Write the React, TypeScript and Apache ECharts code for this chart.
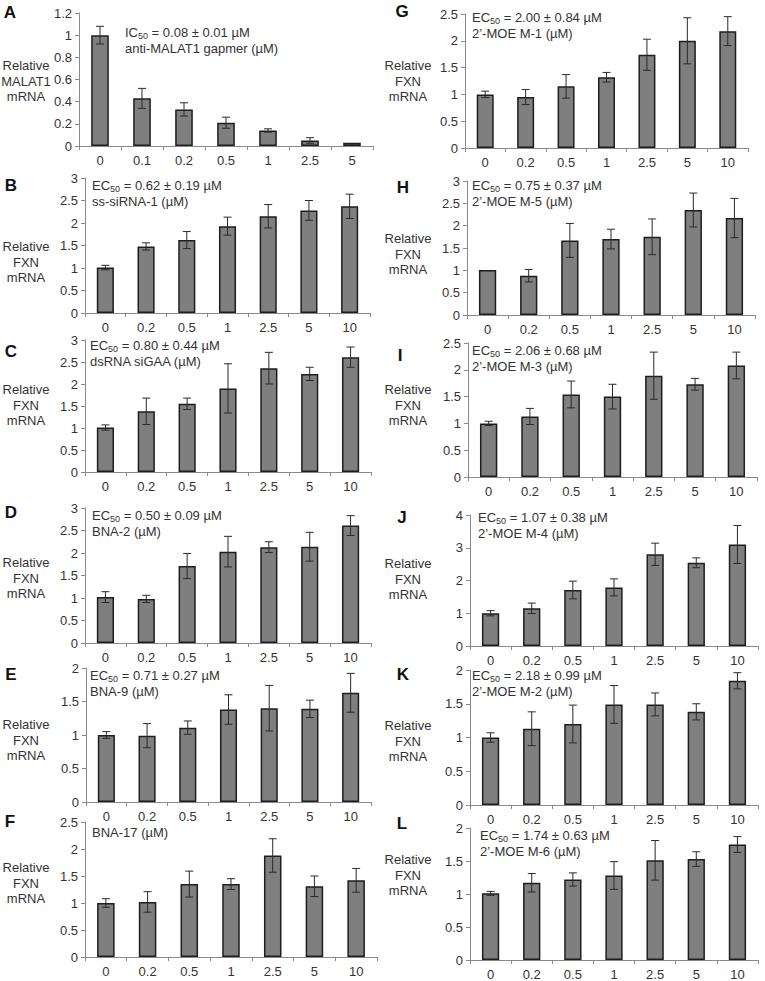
import React, { useEffect, useRef } from "react";
import * as echarts from "echarts";

const catsA = ["0", "0.1", "0.2", "0.5", "1", "2.5", "5"];
const cats = ["0", "0.2", "0.5", "1", "2.5", "5", "10"];

const valuesA = [1.0, 0.43, 0.33, 0.21, 0.14, 0.05, 0.03];
const errorsA = [0.08, 0.09, 0.06, 0.05, 0.015, 0.025, 0];
const valuesB = [1.01, 1.48, 1.62, 1.93, 2.15, 2.28, 2.37];
const errorsB = [0.05, 0.08, 0.19, 0.2, 0.26, 0.22, 0.27];
const valuesC = [1.01, 1.38, 1.55, 1.9, 2.36, 2.23, 2.61];
const errorsC = [0.06, 0.3, 0.13, 0.56, 0.36, 0.15, 0.23];
const valuesD = [1.02, 0.98, 1.71, 2.03, 2.13, 2.14, 2.61];
const errorsD = [0.12, 0.08, 0.28, 0.34, 0.12, 0.32, 0.22];
const valuesE = [1.0, 0.99, 1.11, 1.38, 1.4, 1.39, 1.63];
const errorsE = [0.05, 0.18, 0.1, 0.22, 0.34, 0.13, 0.29];
const valuesF = [1.0, 1.02, 1.35, 1.35, 1.88, 1.31, 1.42];
const errorsF = [0.08, 0.19, 0.24, 0.1, 0.31, 0.19, 0.22];
const valuesG = [1.0, 0.95, 1.15, 1.32, 1.74, 2.0, 2.18];
const errorsG = [0.06, 0.14, 0.22, 0.09, 0.29, 0.43, 0.27];
const valuesH = [1.01, 0.88, 1.67, 1.7, 1.75, 2.35, 2.17];
const errorsH = [0, 0.14, 0.38, 0.22, 0.4, 0.38, 0.44];
const valuesI = [1.0, 1.13, 1.54, 1.5, 1.89, 1.73, 2.08];
const errorsI = [0.04, 0.15, 0.25, 0.23, 0.44, 0.11, 0.25];
const valuesJ = [1.0, 1.15, 1.71, 1.79, 2.8, 2.54, 3.1];
const errorsJ = [0.08, 0.16, 0.27, 0.26, 0.34, 0.15, 0.58];
const valuesK = [1.0, 1.13, 1.2, 1.49, 1.49, 1.38, 1.84];
const errorsK = [0.07, 0.25, 0.28, 0.28, 0.17, 0.12, 0.12];
const valuesL = [1.01, 1.17, 1.22, 1.28, 1.51, 1.53, 1.75];
const errorsL = [0.03, 0.14, 0.1, 0.21, 0.3, 0.11, 0.12];

const yMax = [1.2, 3, 3, 3, 2, 2.5, 2.5, 3, 2.5, 4, 2, 2];
const yStep = [0.2, 0.5, 0.5, 0.5, 0.5, 0.5, 0.5, 0.5, 0.5, 1, 0.5, 0.5];

const letters = ["A", "B", "C", "D", "E", "F", "G", "H", "I", "J", "K", "L"];
const yTitles = [
  "Relative\nMALAT1\nmRNA",
  "Relative\nFXN\nmRNA",
  "Relative\nFXN\nmRNA",
  "Relative\nFXN\nmRNA",
  "Relative\nFXN\nmRNA",
  "Relative\nFXN\nmRNA",
  "Relative\nFXN\nmRNA",
  "Relative\nFXN\nmRNA",
  "Relative\nFXN\nmRNA",
  "Relative\nFXN\nmRNA",
  "Relative\nFXN\nmRNA",
  "Relative\nFXN\nmRNA",
];
const effPrefix = ["IC", "EC", "EC", "EC", "EC", "", "EC", "EC", "EC", "EC", "EC", "EC"];
const effValues = [
  " = 0.08 ± 0.01 µM",
  " = 0.62 ± 0.19 µM",
  " = 0.80 ± 0.44 µM",
  " = 0.50 ± 0.09 µM",
  " = 0.71 ± 0.27 µM",
  "",
  " = 2.00 ± 0.84 µM",
  " = 0.75 ± 0.37 µM",
  " = 2.06 ± 0.68 µM",
  " = 1.07 ± 0.38 µM",
  " = 2.18 ± 0.99 µM",
  " = 1.74 ± 0.63 µM",
];
const compounds = [
  "anti-MALAT1 gapmer (µM)",
  "ss-siRNA-1 (µM)",
  "dsRNA siGAA (µM)",
  "BNA-2 (µM)",
  "BNA-9 (µM)",
  "BNA-17 (µM)",
  "2’-MOE M-1 (µM)",
  "2’-MOE M-5 (µM)",
  "2’-MOE M-3 (µM)",
  "2’-MOE M-4 (µM)",
  "2’-MOE M-2 (µM)",
  "2’-MOE M-6 (µM)",
];

const allValues = [valuesA, valuesB, valuesC, valuesD, valuesE, valuesF, valuesG, valuesH, valuesI, valuesJ, valuesK, valuesL];
const allErrors = [errorsA, errorsB, errorsC, errorsD, errorsE, errorsF, errorsG, errorsH, errorsI, errorsJ, errorsK, errorsL];
const allCats = [catsA, cats, cats, cats, cats, cats, cats, cats, cats, cats, cats, cats];

// layout: [axisX, topY, rightX, bottomY]
const gridBox = [
  [79, 13, 373, 146],
  [85, 178, 370, 313],
  [85, 340, 371, 472],
  [85, 508, 371, 643],
  [86, 668, 371, 802],
  [85, 822, 377, 957],
  [465, 14, 748, 148],
  [467, 181, 755, 315],
  [468, 343, 757, 477],
  [470, 515, 758, 646],
  [470, 670, 758, 805],
  [470, 828, 758, 961],
];
const letterPos = [
  [10, 12], [11, 185], [11, 351], [11, 512], [11, 674], [10, 821],
  [402, 11], [403, 187], [400, 355], [402, 517], [403, 674], [402, 823],
];
const titlePos = [
  [26, 81], [26, 262], [26, 405], [26, 578], [26, 740], [26, 883],
  [408, 81], [408, 254], [408, 405], [408, 579], [408, 741], [408, 875],
];
const notePos = [
  [125, 32], [92, 185], [90, 345], [92, 515], [90, 675], [92, 832],
  [472, 17], [472, 185], [472, 350], [478, 517], [472, 675], [480, 835],
];

const FONT = "'Liberation Sans', Arial, Helvetica, sans-serif";
const TXT = "#333";

export default function App() {
  const ref = useRef<HTMLDivElement>(null);
  useEffect(() => {
    if (!ref.current) return;
    const chart = echarts.init(ref.current, undefined, { renderer: "svg" });
    const grid = gridBox.map((g) => ({
      left: g[0],
      top: g[1],
      width: g[2] - g[0],
      height: g[3] - g[1],
      containLabel: false,
    }));
    const xAxis = allCats.map((c, i) => ({
      type: "category",
      gridIndex: i,
      data: c,
      axisLine: { lineStyle: { color: "#8a8a8a", width: 1 } },
      axisTick: { show: true, length: 4, lineStyle: { color: "#8a8a8a" } },
      axisLabel: { color: TXT, fontSize: 13, margin: 8, interval: 0, fontFamily: FONT },
    }));
    const yAxis = yMax.map((m, i) => ({
      type: "value",
      gridIndex: i,
      min: 0,
      max: m,
      interval: yStep[i],
      axisLine: { show: true, lineStyle: { color: "#8a8a8a", width: 1 } },
      axisTick: { show: true, length: 4, lineStyle: { color: "#8a8a8a" } },
      splitLine: { show: false },
      axisLabel: { color: TXT, fontSize: 13, margin: 7, fontFamily: FONT },
    }));
    const series: any[] = [];
    allValues.forEach((vals, i) => {
      series.push({
        type: "bar",
        xAxisIndex: i,
        yAxisIndex: i,
        data: vals,
        barWidth: "42%",
        itemStyle: { color: "#7f7f7f", borderColor: "#1e1e1e", borderWidth: 1.5 },
      });
      series.push({
        type: "custom",
        xAxisIndex: i,
        yAxisIndex: i,
        z: 10,
        encode: { x: 0, y: 1 },
        data: vals.map((v, j) => [j, v, allErrors[i][j]]),
        renderItem: (params: any, api: any) => {
          const x = api.value(0);
          const y = api.value(1);
          const e = api.value(2);
          if (!e) return { type: "group", children: [] };
          const top = api.coord([x, y + e]);
          const bot = api.coord([x, y - e]);
          const w = 4;
          const st = { stroke: "#2a2a2a", lineWidth: 1 };
          return {
            type: "group",
            children: [
              { type: "line", shape: { x1: top[0], y1: top[1], x2: bot[0], y2: bot[1] }, style: st },
              { type: "line", shape: { x1: top[0] - w, y1: top[1], x2: top[0] + w, y2: top[1] }, style: st },
              { type: "line", shape: { x1: bot[0] - w, y1: bot[1], x2: bot[0] + w, y2: bot[1] }, style: st },
            ],
          };
        },
      });
    });
    const graphic: any[] = [];
    letters.forEach((l, i) => {
      graphic.push({
        type: "text",
        x: letterPos[i][0],
        y: letterPos[i][1],
        style: {
          text: l,
          fontSize: 17,
          fontWeight: "bold",
          fontFamily: FONT,
          fill: "#111",
          align: "center",
          verticalAlign: "middle",
        },
      });
      graphic.push({
        type: "text",
        x: titlePos[i][0],
        y: titlePos[i][1],
        style: {
          text: yTitles[i],
          fontSize: 13,
          lineHeight: 15.5,
          fontFamily: FONT,
          fill: TXT,
          align: "center",
          verticalAlign: "middle",
        },
      });
      const nx = notePos[i][0];
      const ny = notePos[i][1];
      if (effPrefix[i]) {
        graphic.push({
          type: "text",
          x: nx,
          y: ny,
          style: {
            text: `{n|${effPrefix[i]}}{s|50}{n|${effValues[i]}}`,
            fontFamily: FONT,
            fontSize: 13,
            fill: TXT,
            align: "left",
            verticalAlign: "middle",
            rich: {
              n: { fontSize: 13, lineHeight: 16, fill: TXT, fontFamily: FONT },
              s: { fontSize: 9, lineHeight: 10, verticalAlign: "bottom", fill: TXT, fontFamily: FONT },
            },
          },
        });
        graphic.push({
          type: "text",
          x: nx,
          y: ny + 16,
          style: {
            text: compounds[i],
            fontFamily: FONT,
            fontSize: 13,
            fill: TXT,
            align: "left",
            verticalAlign: "middle",
          },
        });
      } else {
        graphic.push({
          type: "text",
          x: nx,
          y: ny,
          style: {
            text: compounds[i],
            fontFamily: FONT,
            fontSize: 13,
            fill: TXT,
            align: "left",
            verticalAlign: "middle",
          },
        });
      }
    });
    chart.setOption({
      animation: false,
      backgroundColor: "#fff",
      textStyle: { fontFamily: FONT },
      grid,
      xAxis,
      yAxis,
      series,
      graphic,
    });
    return () => chart.dispose();
  }, []);
  return (
    <div
      ref={ref}
      style={{ position: "absolute", left: 0, top: 0, width: 765, height: 981, background: "#fff" }}
    />
  );
}
